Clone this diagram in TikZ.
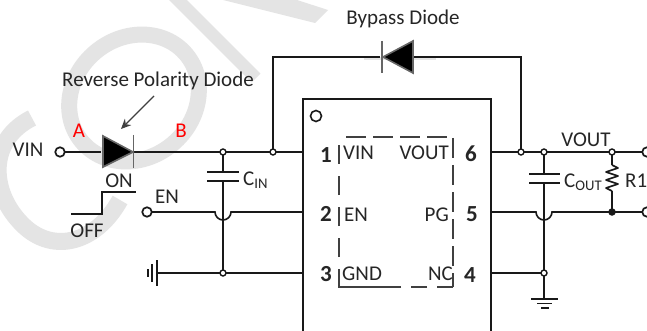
\documentclass[tikz,border=0pt]{standalone}
\usepackage{fontspec}
\setmainfont{Carlito}
\usetikzlibrary{arrows.meta,calc}
\definecolor{wm}{HTML}{E4E4E4}
\tikzset{
 wire/.style={line width=1.6pt,black!90},
 dotn/.style={circle,draw=black!90,fill=white,line width=1.4pt,inner sep=0pt,minimum size=6pt},
 term/.style={circle,draw=black!90,fill=white,line width=1.7pt,inner sep=0pt,minimum size=9.5pt},
 lbl/.style={inner sep=0pt,font=\fontsize{21}{22}\selectfont,text=black!85},
 pin/.style={inner sep=0pt,font=\bfseries\fontsize{23}{23}\selectfont,text=black!85},
 red lbl/.style={inner sep=0pt,font=\fontsize{21}{22}\selectfont,text=red},
 wmark/.style={line width=16pt,draw=wm},
 shadowline/.style={line width=3pt,black!10},
 pkgline/.style={line width=1.4pt,black!75},
}
\begin{document}
\begin{tikzpicture}[x=1pt,y=-1pt]
\useasboundingbox (0,0) rectangle (647,331);
\fill[white] (0,0) rectangle (647,331);
% watermark
\draw[wmark,line width=17pt] (32,118) .. controls (-12,140) and (-10,190) .. (20,222) .. controls (50,255) and (95,245) .. (120,200);
\draw[wmark] (134,98) ellipse[x radius=68,y radius=60,rotate=40];
\draw[wmark,line width=12.5pt] (170,-8) -- (256,78);
\fill[wm] (223,0) -- (315,23) -- (328,10) -- (297,0) -- cycle;
% coordinates
\coordinate (vinj) at (223,152);
\coordinate (byp) at (273,152);
\coordinate (p1) at (303,152);
\coordinate (p2) at (303,212);
\coordinate (p3) at (303,273);
\coordinate (p6) at (491,152);
\coordinate (p5) at (491,212);
\coordinate (p4) at (491,273);
\coordinate (gndL) at (156,273);
% IC
\draw[line width=1.7pt,black!90] (303,331) -- (303,99) -- (491,99) -- (491,331);
\node[circle,draw=black!90,line width=1.6pt,inner sep=0pt,minimum size=11pt] (dot) at (316,116) {};
\draw[pkgline,dash pattern=on 20pt off 7pt] (346,137) -- (453,137) -- (453,287);
\draw[pkgline,dash pattern=on 16pt off 10pt] (453,287) -- (390,287);
\draw[pkgline] (390,287) -- (339,287) -- (339,269);
\draw[pkgline,dash pattern=on 19pt off 12pt] (339,257) -- (339,142);
% wires
\draw[shadowline] (88,154) -- (158,154);
\draw[shadowline] (364,59) -- (436,59);
\draw[wire] (64,152) -- (101,152);
\draw[wire] (133,152) -- (p1);
\draw[wire] (byp) -- (273,57) -- (380,57);
\draw[wire] (413,57) -- (521,57) -- (521,152);
\draw[wire] (p6) -- (645,152);
\draw[wire] (p5) -- (536,212) arc[start angle=180,end angle=0,radius=8] -- (645,212);
\draw[wire] (p4) -- (544,273);
\draw[wire] (147,212) -- (215,212) arc[start angle=180,end angle=0,radius=8] -- (p2);
\draw[wire] (gndL) -- (p3);
% cin
\draw[wire] (vinj) -- (223,172);
\draw[wire] (223,181) -- (223,273);
\draw[wire] (207,172) -- (239,172);
\draw[wire] (207,181) -- (239,181);
% cout
\draw[wire] (544,152) -- (544,174);
\draw[wire] (544,183) -- (544,298);
\draw[wire] (529,174) -- (560,174);
\draw[wire] (529,183) -- (560,183);
% gnd right
\draw[wire] (531,299) -- (558,299);
\draw[wire] (537,303.5) -- (552,303.5);
\draw[wire] (541,308) -- (549,308);
% gnd left
\draw[wire] (157,260) -- (157,286);
\draw[wire] (152,264) -- (152,282);
\draw[wire] (148,269) -- (148,277);
% R1
\draw[wire] (612,152) -- (612,165);
\draw[wire] (612,191) -- (612,212);
\draw[wire,line join=round] (612,165) -- (618,168) -- (606,172) -- (618,176) -- (606,180) -- (618,184) -- (606,188) -- (612,191);
% reverse diode
\draw[line width=1.6pt,draw=black!60,fill=black,line join=miter] (103,136) -- (133,152) -- (103,167) -- cycle;
\draw[line width=1.8pt,black!60] (133.5,135) -- (133.5,168);
% bypass diode
\draw[line width=1.6pt,draw=black!60,fill=black] (413,41) -- (383,57) -- (413,73) -- cycle;
\draw[line width=1.8pt,black!60] (382,41) -- (382,73);
% arrow
\draw[line width=1.4pt,black!75,-{Stealth[length=10pt,width=9pt]}] (154,96) -- (121,129);
% EN step
\draw[wire] (71,214) -- (102,214) -- (102,192) -- (136,192);
% junctions
\node[dotn] (j1) at (vinj) {};
\node[dotn] (j2) at (byp) {};
\node[dotn] (j3) at (223,273) {};
\node[dotn] (j4) at (521,152) {};
\node[dotn] (j5) at (544,152) {};
\node[dotn] (j6) at (612,152) {};
\node[dotn,fill=black!90] (j7) at (612,212) {};
\node[dotn] (j8) at (544,273) {};
\node[term] (tvin) at (60,152) {};
\node[term] (ten) at (147,212) {};
\node[term] (to1) at (647,152) {};
\node[term] (to2) at (647,212) {};
% labels
\node[lbl,anchor=center] (t1) at (158,81) {Reverse Polarity Diode};
\node[lbl,anchor=center] (t2) at (403,19) {Bypass Diode};
\node[lbl,anchor=center] (t3) at (28,150) {VIN};
\node[red lbl] (t4) at (79,131) {A};
\node[red lbl] (t5) at (181,131) {B};
\node[lbl] (t6) at (119,181) {ON};
\node[lbl] (t7) at (87,231) {OFF};
\node[lbl] (t8) at (167,197) {EN};
\node[lbl,anchor=west] (t9) at (243,180) {C\textsubscript{IN}};
\node[lbl,anchor=west] (t10) at (564,182) {C\textsubscript{OUT}};
\node[lbl,anchor=west] (t11) at (625,181) {R1};
\node[lbl] (t12) at (586,140) {VOUT};
\node[pin] (n1) at (326,155) {1};
\node[pin] (n2) at (326,214) {2};
\node[pin] (n3) at (326,274) {3};
\node[pin] (n4) at (470,275) {4};
\node[pin] (n5) at (472,214) {5};
\node[pin] (n6) at (471,154) {6};
\node[lbl,anchor=west] (v1) at (343,153) {VIN};
\node[lbl,anchor=west] (v2) at (344,215) {EN};
\node[lbl,anchor=west] (v3) at (342,274) {GND};
\node[lbl,anchor=east] (v4) at (449,153) {VOUT};
\node[lbl,anchor=east] (v5) at (449,215) {PG};
\node[lbl,anchor=east] (v6) at (453,274) {NC};
\end{tikzpicture}
\end{document}
